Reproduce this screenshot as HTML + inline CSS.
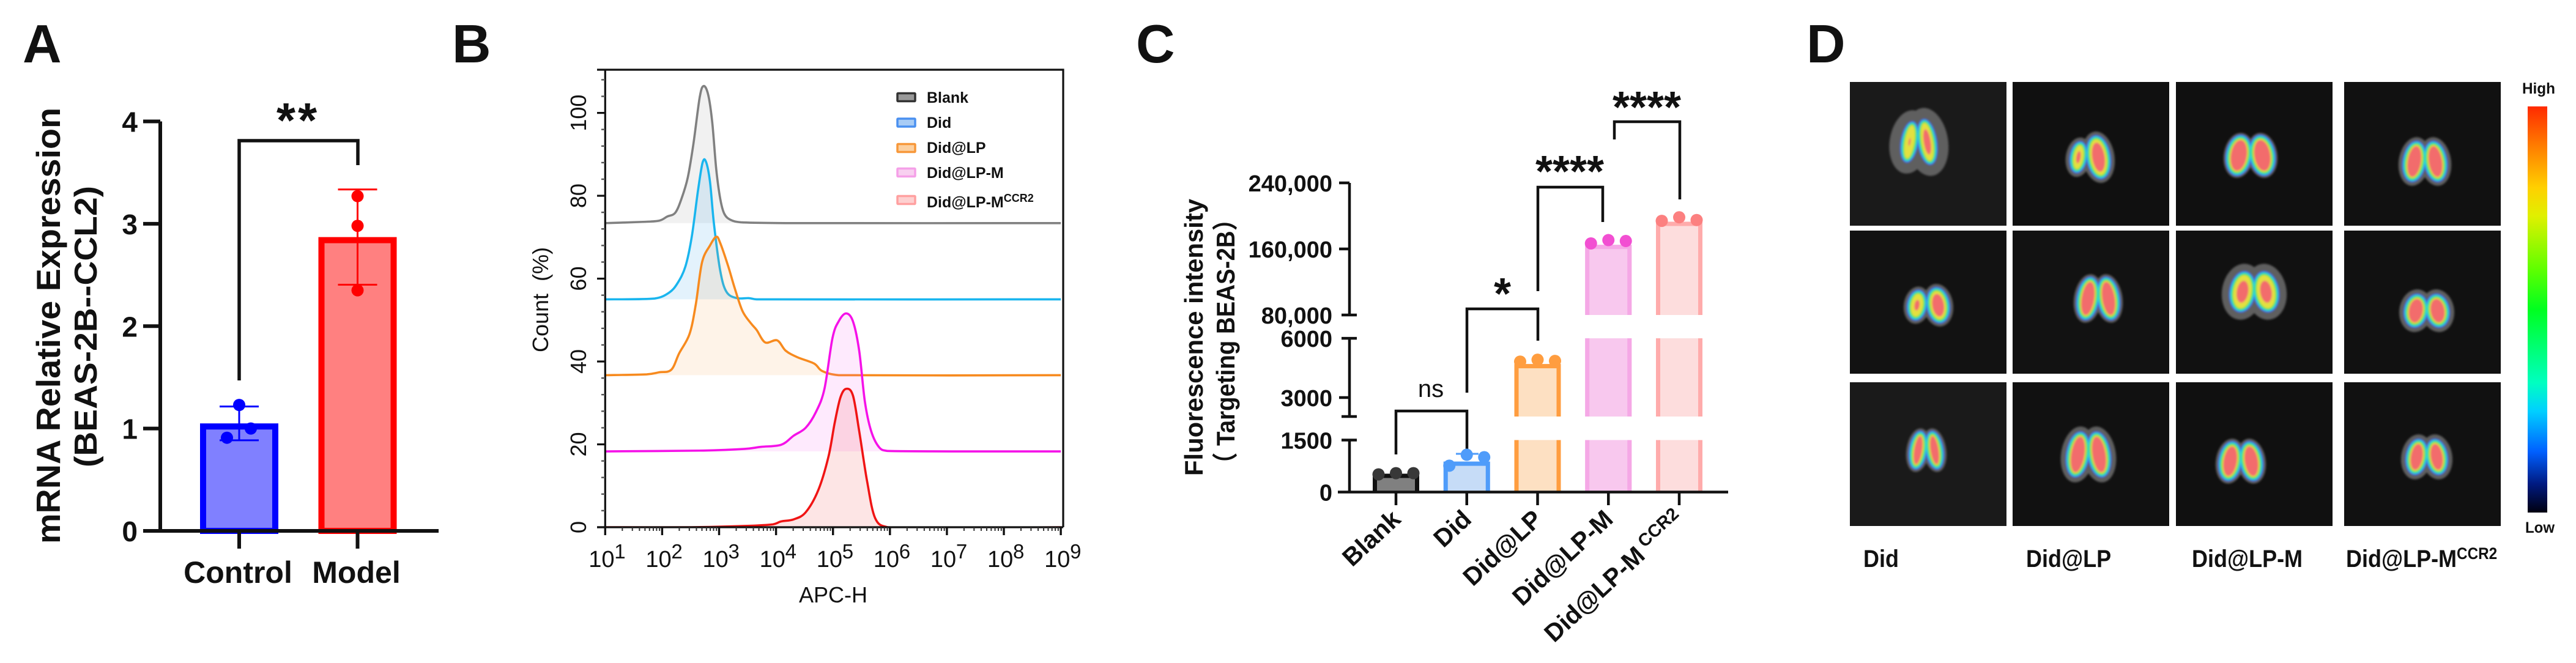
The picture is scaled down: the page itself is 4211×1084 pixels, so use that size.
<!DOCTYPE html>
<html lang="en">
<head>
<meta charset="utf-8">
<title>Figure panels A-D</title>
<style>
html,body{margin:0;padding:0;background:#fff;width:4211px;height:1084px;overflow:hidden}
svg{display:block}
text{font-family:"Liberation Sans",Arial,sans-serif;fill:#111}
.b{font-weight:bold}
</style>
</head>
<body>
<svg id="fig" xmlns="http://www.w3.org/2000/svg" width="4211" height="1084" viewBox="0 0 4211 1084">
<defs>
<linearGradient id="heat" x1="0" y1="0" x2="0" y2="1">
<stop offset="0" stop-color="#ff2a00"/><stop offset=".1" stop-color="#ff7f00"/><stop offset=".2" stop-color="#ffd000"/><stop offset=".27" stop-color="#e0f000"/><stop offset=".4" stop-color="#60ff00"/><stop offset=".5" stop-color="#00ff20"/><stop offset=".68" stop-color="#00ffc0"/><stop offset=".75" stop-color="#00d0ff"/><stop offset=".85" stop-color="#0060ff"/><stop offset=".93" stop-color="#001a80"/><stop offset="1" stop-color="#000010"/>
</linearGradient>
<filter id="soft" x="-30%" y="-30%" width="160%" height="160%"><feGaussianBlur stdDeviation="1.6"/></filter>
<clipPath id="bclip"><rect x="989" y="114" width="750" height="748"/></clipPath>
</defs>

<rect width="4211" height="1084" fill="#fff"/>

<text class="b" x="37" y="102" font-size="88">A</text>
<text class="b" x="739" y="102" font-size="88">B</text>
<text class="b" x="1857" y="102" font-size="88">C</text>
<text class="b" x="2953" y="102" font-size="88">D</text>

<!-- Panel A static -->
<g id="panelA">
<text class="b" transform="translate(98 889) rotate(-90)" font-size="55" textLength="713" lengthAdjust="spacingAndGlyphs">mRNA Relative Expression</text>
<text class="b" transform="translate(158 764) rotate(-90)" font-size="52" textLength="460" lengthAdjust="spacingAndGlyphs">(BEAS-2B--CCL2)</text>
<path d="M391 622V230H585V270" fill="none" stroke="#111" stroke-width="5.5"/>
<text class="b" x="487" y="224" font-size="80" letter-spacing="4" text-anchor="middle">**</text>
</g>

<!-- Panel B static -->
<g id="panelB">
<text transform="translate(896 490) rotate(-90)" font-size="36" text-anchor="middle">Count&#160;&#160;(%)</text>
<text x="1362" y="985" font-size="36" text-anchor="middle">APC-H</text>
</g>

<!-- Panel C static -->
<g id="panelC">
<text class="b" transform="translate(1966 778) rotate(-90)" font-size="42" textLength="453" lengthAdjust="spacingAndGlyphs">Fluorescence intensity</text>
<text class="b" transform="translate(2018 778) rotate(-90)" font-size="42" textLength="439" lengthAdjust="spacingAndGlyphs" style="font-family:'Liberation Sans','Noto Sans CJK SC',sans-serif">（ Targeting BEAS-2B）</text>
<path d="M2282 743V672H2398V748" fill="none" stroke="#111" stroke-width="4.5"/>
<path d="M2398 642V505H2514V557" fill="none" stroke="#111" stroke-width="4.5"/>
<path d="M2514 476V306H2620V363" fill="none" stroke="#111" stroke-width="4.5"/>
<path d="M2639 228V199H2746V326" fill="none" stroke="#111" stroke-width="4.5"/>
<text x="2339" y="649" font-size="40" text-anchor="middle">ns</text>
<text class="b" x="2456" y="505" font-size="72" text-anchor="middle">*</text>
<text class="b" x="2566" y="305" font-size="72" text-anchor="middle">****</text>
<text class="b" x="2692" y="200" font-size="72" text-anchor="middle">****</text>
</g>

<!-- Panel D static -->
<g id="panelD">
<rect x="4132" y="174" width="32" height="664" fill="url(#heat)"/>
<text class="b" x="4150" y="153" font-size="25" text-anchor="middle" textLength="54" lengthAdjust="spacingAndGlyphs">High</text>
<text class="b" x="4152" y="871" font-size="25" text-anchor="middle" textLength="48" lengthAdjust="spacingAndGlyphs">Low</text>
<text class="b" transform="translate(3046 927) scale(.9 1)" font-size="40">Did</text>
<text class="b" transform="translate(3312 927) scale(.9 1)" font-size="40">Did@LP</text>
<text class="b" transform="translate(3583 927) scale(.9 1)" font-size="40">Did@LP-M</text>
<text class="b" transform="translate(3835 927) scale(.9 1)" font-size="40">Did@LP-M<tspan font-size="27" dy="-13">CCR2</tspan></text>
</g>
</svg>

<script>
/* ---------- Panel A data ---------- */
const aCategories = ['Control', 'Model'];
const aMeans = [1.05, 2.87];
const aSd = [0.165, 0.465];
const aPoints = [[1.23, 1.0, 0.91], [3.27, 2.98, 2.35]];
const aTickLabels = [0, 1, 2, 3, 4];

/* ---------- Panel B data ---------- */
const bSeriesNames = ['Blank', 'Did', 'Did@LP', 'Did@LP-M', 'Did@LP-M'];
const bYTickLabels = [0, 20, 40, 60, 80, 100];
const bXExponents = [1, 2, 3, 4, 5, 6, 7, 8, 9];
const bBlankLog = [1,1.66,1.95,2.09,2.23,2.34,2.45,2.55,2.66,2.73,2.81,2.88,2.95,3.02,3.09,3.2,3.38,4.17,9];
const bBlankCount = [73.4,73.7,74,75,75.9,79.3,84.4,92.6,103.8,106.5,104.3,97.7,86.4,79.3,75.7,74.2,73.6,73.4,73.4];
const bDidLog = [1,1.87,2.12,2.27,2.41,2.52,2.63,2.71,2.77,2.84,2.91,3.02,3.13,3.31,3.52,3.66,9];
const bDidCount = [55,55.2,56.6,58.9,63,70.1,81.3,88,88.2,83.4,73.2,61.9,56.8,55.3,55.3,55,55];
const bLpLog = [1,1.73,1.95,2.16,2.3,2.48,2.59,2.7,2.84,2.95,3.02,3.16,3.27,3.41,3.56,3.66,3.81,4.02,4.17,4.38,4.67,4.81,5.1,9];
const bLpCount = [36.7,36.9,37.4,38,42,46.6,53.7,63.9,68,70.1,68.6,63,57.9,52.2,49.2,47.6,44.6,45.1,42.6,41,39.5,37.7,36.7,36.7];
const bLpmLog = [1,2.73,3.45,3.74,4.09,4.31,4.52,4.7,4.85,4.99,5.1,5.23,5.35,5.46,5.56,5.67,5.81,5.96,9];
const bLpmCount = [18.3,18.5,18.9,19.4,19.9,22.1,24,27.8,33.4,45.6,49.7,51.6,49.7,42.6,30.3,23.2,19.3,18.4,18.3];
const bCcr2Log = [1,2.52,3.45,3.95,4.09,4.31,4.52,4.74,4.92,5.03,5.13,5.23,5.35,5.46,5.6,5.74,5.96,9];
const bCcr2Count = [0,0,0.3,0.7,1.4,1.9,3.6,8.9,17,25.2,31.3,33.4,31.8,23.2,11,2.2,0,0];

/* ---------- Panel C data ---------- */
const cCategories = ['Blank', 'Did', 'Did@LP', 'Did@LP-M', 'Did@LP-M'];
const cPoints = [[510,545,545],[760,1075,1005],[4820,4915,4855],[166700,170700,169600],[194000,198300,195000]];
const cMeans = [530, 880, 4700, 165000, 193000];
const cTickValues = [0, 1500, 3000, 6000, 80000, 160000, 240000];
const cTickLabels = ['0', '1500', '3000', '6000', '80,000', '160,000', '240,000'];

/* ---------- helpers ---------- */
const NS = 'http://www.w3.org/2000/svg';
const fig = document.getElementById('fig');
function mk(parent, tag, attrs, txt) {
  const el = document.createElementNS(NS, tag);
  for (const k in attrs) el.setAttribute(k, attrs[k]);
  if (txt !== undefined) el.textContent = txt;
  parent.appendChild(el);
  return el;
}
let el;

/* ---------- Panel A ---------- */
const pA = document.getElementById('panelA');
const aY = v => 868 - v * 167.375;
const aX = i => 391 + i * 193.5;
const aBorder = ['#0000ff', '#ff0000'];
const aFill = ['#8080ff', '#ff8080'];
const aJitter = [[0, 19, -20], [0, 0, 0]];
aCategories.forEach((c, i) => {
  const x = aX(i), w = 128, top = aY(aMeans[i]);
  el = mk(pA, 'rect', {x: x - w/2 + 5, y: top + 5, width: w - 10, height: 868 - top - 5, fill: aFill[i], stroke: aBorder[i], 'stroke-width': 10});
  
  
  el = mk(pA, 'path', {d: `M${x-32} ${aY(aMeans[i]+aSd[i])}H${x+32}M${x} ${aY(aMeans[i]+aSd[i])}V${aY(aMeans[i]-aSd[i])}M${x-32} ${aY(aMeans[i]-aSd[i])}H${x+32}`, fill: 'none', stroke: aBorder[i], 'stroke-width': 3});
  
  
  aPoints[i].forEach((p, j) => {
    el = mk(pA, 'circle', {cx: x + aJitter[i][j], cy: aY(p), r: 10, fill: aBorder[i]});
    
    
  });
  el = mk(pA, 'line', {x1: x, x2: x, y1: 868, y2: 897, stroke: '#111', 'stroke-width': 6});
  
  
  el = mk(pA, 'text', {x: x - 2, y: 953, 'font-size': 50, 'font-weight': 'bold', 'text-anchor': 'middle'}, c);
  
  
});
el = mk(pA, 'path', {d: 'M262 198.5V868M234 868H717', fill: 'none', stroke: '#111', 'stroke-width': 6});


aTickLabels.forEach(t => {
  el = mk(pA, 'line', {x1: 234, x2: 262, y1: aY(t), y2: aY(t), stroke: '#111', 'stroke-width': 6});
  
  
  el = mk(pA, 'text', {x: 225, y: aY(t) + 17, 'font-size': 46, 'font-weight': 'bold', 'text-anchor': 'end'}, t);
  
  
});

/* ---------- Panel B ---------- */
const pB = document.getElementById('panelB');
const bX = l => 989.3 + (l - 1) * 93.1;
const bY = p => 862 - p * 6.774;
function smooth(xs, ys) {
  const P = xs.map((x, i) => [bX(x), bY(ys[i])]);
  let d = `M${P[0][0]} ${P[0][1]}`;
  for (let i = 0; i < P.length - 1; i++) {
    const p0 = P[Math.max(i-1,0)], p1 = P[i], p2 = P[i+1], p3 = P[Math.min(i+2,P.length-1)];
    const dx = (p2[0]-p1[0]);
    const c1x = Math.min(p1[0] + (p2[0]-p0[0])/6, p1[0]+dx*.5), c2x = Math.max(p2[0] - (p3[0]-p1[0])/6, p2[0]-dx*.5);
    d += `C${c1x} ${p1[1] + (p2[1]-p0[1])/6} ${c2x} ${p2[1] - (p3[1]-p1[1])/6} ${p2[0]} ${p2[1]}`;
  }
  return d;
}
const bSeries = [
  {key:'blank', lg:bBlankLog, ct:bBlankCount, line:'#808080', fill:'rgba(150,150,150,.13)'},
  {key:'did', lg:bDidLog, ct:bDidCount, line:'#19b5ee', fill:'rgba(70,170,235,.15)'},
  {key:'did-lp', lg:bLpLog, ct:bLpCount, line:'#f78a1e', fill:'rgba(250,160,80,.13)'},
  {key:'did-lp-m', lg:bLpmLog, ct:bLpmCount, line:'#f511e8', fill:'rgba(245,80,235,.12)'},
  {key:'did-lp-m-ccr2', lg:bCcr2Log, ct:bCcr2Count, line:'#f01414', fill:'rgba(240,70,70,.14)'}
];
const bPlot = mk(pB, 'g', {'clip-path': 'url(#bclip)'});


bSeries.forEach(s => {
  const d = smooth(s.lg, s.ct);
  el = mk(bPlot, 'path', {d: d + `Z`, fill: s.fill, stroke: 'none'});
  
  
  el = mk(bPlot, 'path', {d: d, fill: 'none', stroke: s.line, 'stroke-width': 3.6, 'stroke-linejoin': 'round'});
  
  
});
el = mk(pB, 'path', {d: 'M976 114H1738V862M989.3 114V862M976 862H1738', fill: 'none', stroke: '#111', 'stroke-width': 3.2});


for (let p = 0; p <= 108; p += 4) {
  const major = p % 20 === 0;
  el = mk(pB, 'line', {x1: major ? 976 : 983, x2: 989, y1: bY(p), y2: bY(p), stroke: major ? '#111' : '#555', 'stroke-width': major ? 3.2 : 2.4});
  
  
}
bYTickLabels.forEach(t => {
  el = mk(pB, 'text', {transform: `translate(958 ${bY(t)}) rotate(-90)`, 'font-size': 36, 'text-anchor': 'middle'}, t);
  
  
});
bXExponents.forEach((e, i) => {
  const x = bX(e);
  el = mk(pB, 'line', {x1: x, x2: x, y1: 862, y2: 875, stroke: '#111', 'stroke-width': 3.4});
  
  
  if (i < bXExponents.length - 1) {
    for (let m = 2; m <= 9; m++) {
      const mx = bX(e + Math.log10(m));
      el = mk(pB, 'line', {x1: mx, x2: mx, y1: 862, y2: 868, stroke: '#333', 'stroke-width': 2});
      
      
    }
  }
  el = mk(pB, 'text', {x: x - 27, y: 927, 'font-size': 38}, '10');
  
  
  el = mk(pB, 'text', {x: x + 15, y: 913, 'font-size': 33}, e);
  
  
});
const bLegendStroke = ['#333333', '#4a90f0', '#f7983a', '#f5a0e8', '#ffa0a0'];
const bLegendFill = ['#999999', '#a8ccf5', '#fcd0a0', '#f8d0f0', '#fdd0d0'];
const bLegendSwatchY = [159, 200.5, 242, 282, 327];
const bLegendTextY = [168, 209, 250, 291, 339];
bSeriesNames.forEach((n, i) => {
  el = mk(pB, 'rect', {x: 1467, y: bLegendSwatchY[i] - 6.5, width: 29, height: 13, fill: bLegendFill[i], stroke: bLegendStroke[i], 'stroke-width': 3.5, rx: 1});
  
  
  el = mk(pB, 'text', {x: 1515, y: bLegendTextY[i], 'font-size': 25, 'font-weight': 'bold'}, n);
  
  
  if (i === 4) {
    const sup = mk(el, 'tspan', {'font-size': 18, dy: -9}, 'CCR2');
    
    
  }
});

/* ---------- Panel C ---------- */
const pC = document.getElementById('panelC');
const cX = i => 2282 + i * 115.75;
function cY(v) {
  if (v <= 1500) return 804.5 - v * 0.0567;
  if (v <= 6000) return 650 - (v - 3000) * 0.0323;
  return 515 - (v - 80000) * 0.00135;
}
const cSegments = [[0, 1500], [2040, 6000], [80000, 240000]];
const cStroke = ['#111111', '#4f9cfa', '#ff9d3f', '#f5a8e6', '#ffabab'];
const cFill = ['#808080', '#c6dcf7', '#fde0c2', '#f8c8ee', '#fddddd'];
const cDot = ['#383838', '#4f9cfa', '#ff9d3f', '#f24fd2', '#fc8080'];
const cKeys = ['blank', 'did', 'did-lp', 'did-lp-m', 'did-lp-m-ccr2'];
const cHalf = 38, cB = 7;
cCategories.forEach((c, i) => {
  const x = cX(i), mean = cMeans[i];
  cSegments.forEach(seg => {
    if (mean <= seg[0]) return;
    const hi = Math.min(mean, seg[1]);
    const yT = cY(hi), yB = cY(seg[0]);
    el = mk(pC, 'rect', {x: x - cHalf, y: yT, width: cHalf * 2, height: yB - yT, fill: cFill[i]});
    
    
    el = mk(pC, 'path', {d: `M${x-cHalf+cB/2} ${yB}V${yT}M${x+cHalf-cB/2} ${yB}V${yT}` + (mean <= seg[1] ? `M${x-cHalf} ${yT+cB/2}H${x+cHalf}` : ''), fill: 'none', stroke: cStroke[i], 'stroke-width': cB});
    
    
  });
  [-28.5, 0, 28.5].forEach((dx, j) => {
    el = mk(pC, 'circle', {cx: x + dx, cy: cY(cPoints[i][j]), r: 10, fill: cDot[i]});
    
    
  });
  el = mk(pC, 'line', {x1: x, x2: x, y1: 805, y2: 826, stroke: '#111', 'stroke-width': 4.5});
  
  
  el = mk(pC, 'text', {transform: `translate(${x + 10} 852) rotate(-43)`, 'font-size': 41, 'font-weight': 'bold', 'text-anchor': 'end'}, c);
  
  
  if (i === 4) {
    const sup = mk(el, 'tspan', {'font-size': 29, dy: -13}, ' CCR2');
    
    
  }
});
el = mk(pC, 'line', {x1: 2380, x2: 2417, y1: 742, y2: 742, stroke: '#4f9cfa', 'stroke-width': 3});


cSegments.forEach(seg => {
  el = mk(pC, 'line', {x1: 2206, x2: 2206, y1: cY(seg[0]), y2: cY(seg[1]), stroke: '#111', 'stroke-width': 4.5});
  
  
  [seg[0], seg[1]].forEach(v => {
    if (v === 0 || v === 240000) return;
    el = mk(pC, 'line', {x1: 2193, x2: 2218, y1: cY(v), y2: cY(v), stroke: '#111', 'stroke-width': 4.5});
    
    
  });
});
el = mk(pC, 'line', {x1: 2187, x2: 2825, y1: 804.5, y2: 804.5, stroke: '#111', 'stroke-width': 4.5});


cTickValues.forEach((v, i) => {
  if (v === 3000 || v === 160000 || v === 240000) {
    el = mk(pC, 'line', {x1: 2189, x2: 2206, y1: cY(v), y2: cY(v), stroke: '#111', 'stroke-width': 4.5});
    
    
  }
  el = mk(pC, 'text', {x: 2178, y: cY(v) + 14, 'font-size': 38, 'font-weight': 'bold', 'text-anchor': 'end'}, cTickLabels[i]);
  
  
});

/* ---------- Panel D (lung images) ---------- */
const pD = document.getElementById('panelD');
const dColLeft = [3024, 3290, 3557, 3832];
const dRowTop = [134, 377, 625];
const dRowH = [235, 234, 235];
const dTileFill = [['#1a1a1a','#101010','#101010','#111111'],['#121212','#121212','#111111','#111111'],['#1a1a1a','#111111','#101010','#111111']];
/* cx, cy, half-width, half-height, left-lobe scale, right-lobe scale, left red, right red, grey halo */
const dLungs = [
  [[3136,232,30,38,.9,1,.25,.7,18],[3414,257,34,33,.8,1.1,.55,.85,6],[3679,254,40,34,1,1,1,1,3],[3964,264,36,34,1,1,1,1,6]],
  [[3151,499,36,30,.85,1,.5,.85,5],[3430,488,35,36,1,1,1,1,4],[3685,477,40,34,1,1,.7,.7,12],[3967,508,37,28,1,1,1,1,7]],
  [[3149,736,28,32,1,1,1,1,4],[3414,743,36,38,1,1,1,1,8],[3663,754,36,33,1,1,1,1,4],[3967,747,34,30,1,1,1,1,7]]
];
const dLayers = [['#3a68e6',0],['#30d4e4',-2],['#40e050',-4],['#e2e040',-6.5]];
const dCore = '#f26c6c';
dRowTop.forEach((top, r) => {
  dColLeft.forEach((left, c) => {
    el = mk(pD, 'rect', {x: left, y: top, width: 256, height: dRowH[r], fill: dTileFill[r][c]});
    
    
    const [cx, cy, hw, hh, sL, sR, redL, redR, halo] = dLungs[r][c];
    const g = mk(pD, 'g', {filter: 'url(#soft)'});
    
    
    const lobes = [[-1, 9, sL, redL], [1, -9, sR, redR]];
    const place = (s, grow, color, name) => {
      const lx = cx + s[0] * hw * .48;
      const e = mk(g, 'ellipse', {cx: lx, cy: cy, rx: Math.max(hw * .54 * s[2] + grow, 1), ry: Math.max(hh * s[2] + grow, 1), fill: color, transform: `rotate(${s[1]} ${lx} ${cy})`});
      
      
    };
    lobes.forEach(s => place(s, halo, '#5e5e5e', 'lung-tissue-halo'));
    dLayers.forEach(l => lobes.forEach(s => place(s, l[1], l[0], 'lung-signal-ring')));
    lobes.forEach(s => {
      if (s[3] >= 1) {
        place(s, -8.5, dCore, 'lung-signal-core');
      } else {
        const lx = cx + s[0] * hw * .48;
        const e = mk(g, 'ellipse', {cx: lx, cy: cy, rx: (hw * .54 * s[2] - 8) * s[3], ry: (hh * s[2] - 8) * s[3], fill: dCore, transform: `rotate(${s[1]} ${lx} ${cy})`});
        
        
      }
    });
  });
});
</script>
</body>
</html>
